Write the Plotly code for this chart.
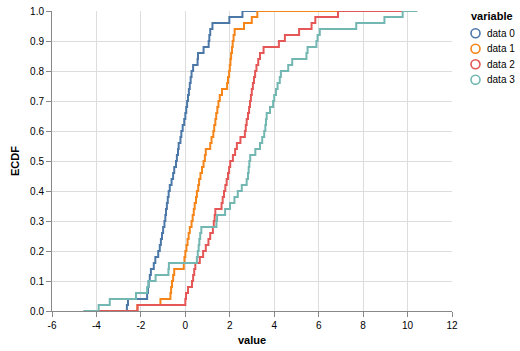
import numpy as np
import plotly.graph_objects as go

series_names = ["data 0", "data 1", "data 2", "data 3"]
colors = ["#4c78a8", "#f58518", "#e45756", "#72b7b2"]
legend_title = "variable"

data0 = [-2.63, -2.58, -1.72, -1.68, -1.65, -1.60, -1.55, -1.42, -1.35, -1.22,
         -1.15, -1.10, -1.05, -1.00, -0.94, -0.90, -0.87, -0.83, -0.79, -0.75,
         -0.70, -0.62, -0.55, -0.50, -0.42, -0.38, -0.33, -0.30, -0.22, -0.18,
         -0.12, -0.05, 0.00, 0.04, 0.08, 0.12, 0.16, 0.20, 0.24, 0.28,
         0.35, 0.55, 0.57, 0.82, 1.05, 1.08, 1.12, 1.22, 1.98, 2.57]
data1 = [-2.16, -1.12, -0.67, -0.64, -0.60, -0.55, -0.50, -0.07, -0.04, 0.00,
         0.05, 0.10, 0.15, 0.20, 0.28, 0.33, 0.38, 0.42, 0.48, 0.52,
         0.58, 0.62, 0.68, 0.75, 0.82, 0.88, 0.92, 1.12, 1.18, 1.26,
         1.30, 1.35, 1.39, 1.44, 1.49, 1.55, 1.65, 1.88, 1.92, 1.97,
         2.00, 2.03, 2.06, 2.10, 2.13, 2.17, 2.22, 2.64, 2.99, 3.24]
data2 = [-2.15, 0.00, 0.03, 0.12, 0.30, 0.35, 0.40, 0.45, 0.65, 0.80,
         0.92, 1.04, 1.12, 1.24, 1.28, 1.32, 1.35, 1.63, 1.68, 1.74,
         1.80, 1.86, 1.92, 1.97, 2.02, 2.14, 2.24, 2.32, 2.48, 2.68,
         2.72, 2.76, 2.82, 2.87, 2.91, 2.95, 2.99, 3.04, 3.09, 3.14,
         3.20, 3.28, 3.36, 3.52, 4.21, 4.48, 5.12, 5.68, 5.85, 6.87]
data3 = [-3.90, -3.40, -2.22, -1.72, -1.66, -1.34, -0.76, -0.74, 0.52, 0.56,
         0.60, 0.63, 0.67, 0.72, 1.40, 1.43, 1.79, 2.01, 2.21, 2.36,
         2.54, 2.76, 2.82, 2.85, 2.88, 2.92, 3.15, 3.36, 3.46, 3.55,
         3.60, 3.63, 3.66, 3.81, 3.95, 4.00, 4.08, 4.15, 4.25, 4.30,
         4.63, 4.81, 5.45, 5.50, 5.90, 5.95, 6.05, 7.69, 8.96, 9.78]

# common evaluation range of the ECDF lines
grid_range = [-4.57, 10.43]

x_ticks = [-6, -4, -2, 0, 2, 4, 6, 8, 10, 12]
x_tick_labels = ["-6", "-4", "-2", "0", "2", "4", "6", "8", "10", "12"]
y_ticks = [0.0, 0.1, 0.2, 0.3, 0.4, 0.5, 0.6, 0.7, 0.8, 0.9, 1.0]

all_data = [data0, data1, data2, data3]

W, H = 520, 351
ML, MR, MT, MB = 52, 68, 11, 40
PW, PH = W - ML - MR, H - MT - MB


def px_to_paper(px, py):
    return (px - ML) / PW, (H - MB - py) / PH


fig = go.Figure()
for name, color, vals in zip(series_names, colors, all_data):
    v = np.sort(np.array(vals))
    n = len(v)
    y = np.arange(1, n + 1) / n
    xs = np.concatenate([[grid_range[0]], v, [grid_range[1]]])
    ys = np.concatenate([[0.0], y, [1.0]])
    fig.add_trace(go.Scatter(x=xs, y=ys, mode="lines", line=dict(color=color, width=2, shape="hv"),
                             name=name, showlegend=False, hoverinfo="skip"))

font_family = "Liberation Sans, Arial, sans-serif"

# manual legend (Vega-Lite style)
annotations = []
shapes = []
tx, ty = px_to_paper(469, 16)
annotations.append(dict(text="<b>" + legend_title + "</b>", x=tx, y=ty, xref="paper", yref="paper",
                        xanchor="left", yanchor="middle", showarrow=False,
                        font=dict(size=11, color="#000", family=font_family)))
for i, (name, color) in enumerate(zip(series_names, colors)):
    cy = 33.3 + i * 15.5
    sx, sy = px_to_paper(475.5, cy)
    shapes.append(dict(type="circle", xref="paper", yref="paper", xsizemode="pixel", ysizemode="pixel",
                       xanchor=sx, yanchor=sy, x0=-4.5, x1=4.5, y0=-4.5, y1=4.5,
                       line=dict(color=color, width=1.6), fillcolor="rgba(0,0,0,0)"))
    lx, ly = px_to_paper(485, cy)
    annotations.append(dict(text=name, x=lx, y=ly, xref="paper", yref="paper",
                            xanchor="left", yanchor="middle", showarrow=False,
                            font=dict(size=10, color="#000", family=font_family)))

fig.update_layout(
    width=W, height=H,
    margin=dict(l=ML, r=MR, t=MT, b=MB, autoexpand=False),
    paper_bgcolor="white", plot_bgcolor="white",
    font=dict(family=font_family, size=10, color="#000"),
    showlegend=False,
    annotations=annotations,
    shapes=shapes,
)
fig.update_xaxes(range=[-6, 12], tickvals=x_ticks, ticktext=x_tick_labels,
                 showgrid=True, gridcolor="#dddddd", gridwidth=1,
                 showline=True, linecolor="#888888", linewidth=1,
                 ticks="outside", ticklen=5, tickcolor="#888888",
                 zeroline=False,
                 title=dict(text="<b>value</b>", font=dict(size=11), standoff=6))
fig.update_yaxes(range=[0, 1], tickvals=y_ticks, tickformat=".1f",
                 showgrid=True, gridcolor="#dddddd", gridwidth=1,
                 showline=True, linecolor="#888888", linewidth=1,
                 ticks="outside", ticklen=5, tickcolor="#888888",
                 zeroline=False,
                 title=dict(text="<b>ECDF</b>", font=dict(size=11), standoff=8))

fig.write_html("out.html", config={"displayModeBar": False})
